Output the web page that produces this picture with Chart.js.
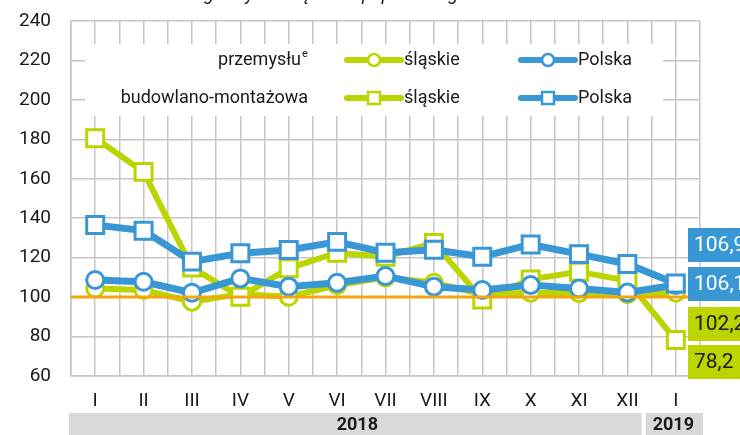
<!DOCTYPE html>
<html lang="pl">
<head>
<meta charset="utf-8">
<script src="https://cdn.jsdelivr.net/npm/chart.js@4"></script>
<style>
html, body { margin: 0; padding: 0; background: #fff; }
</style>
</head>
<body>
<canvas id="wykres" width="740" height="435"></canvas>
<script>
// miesiace i lata
const miesiace = ['I', 'II', 'III', 'IV', 'V', 'VI', 'VII', 'VIII', 'IX', 'X', 'XI', 'XII', 'I'];
const lata = ['2018', '2019'];
const yTicks = [60, 80, 100, 120, 140, 160, 180, 200, 220, 240];

// produkcja sprzedana przemyslu
const slaskiePrzem = [104.4, 103.6, 97.7, 101.5, 100.2, 106.0, 110.0, 107.3, 101.5, 102.2, 102.0, 101.5, 102.2];
const polskaPrzem = [108.7, 107.8, 102.2, 109.5, 105.3, 107.3, 110.7, 105.3, 103.6, 106.1, 104.4, 102.3, 106.1];
// produkcja budowlano-montazowa
const slaskieBud = [180.6, 163.5, 115.0, 100.2, 114.6, 122.5, 120.5, 127.5, 98.8, 109.0, 112.9, 108.3, 78.2];
const polskaBud = [136.6, 133.7, 118.0, 122.2, 123.9, 128.0, 122.5, 124.0, 120.5, 126.7, 121.8, 116.8, 106.9];

const ZIELONY = '#bcd400';
const NIEBIESKI = '#3a97d6';
const TEKST = '#1a1a1a';
const SIATKA = '#c6c6c6';
const FONT = 'Roboto';

function punkty(arr) {
    return arr.map((v, i) => ({ x: i, y: v }));
}
function fmt(v) {
    return v.toFixed(1).replace('.', ',');
}

// tytul (ucięty u gory)
const tytul = {
    id: 'tytul',
    afterDraw(chart) {
        const ctx = chart.ctx;
        ctx.save();
        ctx.font = 'italic 18px ' + FONT;
        ctx.fillStyle = TEKST;
        ctx.textBaseline = 'alphabetic';
        const x0 = 204 - ctx.measureText('analo').width;
        ctx.fillText('analogiczny miesiąc roku poprzedniego = 100', x0, 0);
        ctx.restore();
    }
};

// legenda w bialym polu
const legenda = {
    id: 'legenda',
    beforeDatasetsDraw(chart) {
        const ctx = chart.ctx;
        ctx.save();
        ctx.fillStyle = '#fff';
        ctx.fillRect(85, 44, 578, 72);

        const wiersze = [
            { y: 60, nazwa: 'przemysłu', sup: 'e', styl: 'circle' },
            { y: 98, nazwa: 'budowlano-montażowa', sup: '', styl: 'rect' }
        ];
        wiersze.forEach(w => {
            ctx.font = '18px ' + FONT;
            ctx.fillStyle = TEKST;
            ctx.textBaseline = 'middle';
            ctx.textAlign = 'right';
            ctx.fillText(w.nazwa, w.sup ? 301 : 308, w.y);
            if (w.sup) {
                ctx.font = '11px ' + FONT;
                ctx.textAlign = 'left';
                ctx.fillText(w.sup, 302, w.y - 6);
            }
            [[ZIELONY, 347, 401, 374, 'śląskie', 404], [NIEBIESKI, 521, 575, 548, 'Polska', 578]].forEach(s => {
                ctx.strokeStyle = s[0];
                ctx.lineWidth = 6;
                ctx.lineCap = 'round';
                ctx.beginPath();
                ctx.moveTo(s[1], w.y);
                ctx.lineTo(s[2], w.y);
                ctx.stroke();
                ctx.fillStyle = '#fff';
                ctx.lineWidth = 2.5;
                ctx.beginPath();
                if (w.styl === 'circle') ctx.arc(s[3], w.y, 6, 0, Math.PI * 2);
                else ctx.rect(s[3] - 6, w.y - 6, 12, 12);
                ctx.fill();
                ctx.stroke();
                ctx.font = '18px ' + FONT;
                ctx.fillStyle = TEKST;
                ctx.textAlign = 'left';
                ctx.fillText(s[4], s[5], w.y);
            });
        });
        ctx.restore();
    }
};

// linia 100
const linia100 = {
    id: 'linia100',
    afterDatasetsDraw(chart) {
        const ctx = chart.ctx;
        const a = chart.chartArea;
        const y = chart.scales.y.getPixelForValue(100);
        ctx.save();
        ctx.strokeStyle = '#f2a50c';
        ctx.lineWidth = 3;
        ctx.beginPath();
        ctx.moveTo(a.left, y);
        ctx.lineTo(a.right - 10, y);
        ctx.stroke();
        ctx.restore();
    }
};

// pasek lat i etykiety wartosci
const dodatki = {
    id: 'dodatki',
    afterDraw(chart) {
        const ctx = chart.ctx;
        const a = chart.chartArea;
        const sx = chart.scales.x;
        const sep = sx.getPixelForValue(11.5) - 8;
        ctx.save();
        ctx.fillStyle = '#d9d9d9';
        ctx.fillRect(a.left - 2, 413, sep - 2 - (a.left - 2), 22);
        ctx.fillRect(sep + 2, 413, a.right + 3 - (sep + 2), 22);
        ctx.font = 'bold 18px ' + FONT;
        ctx.fillStyle = TEKST;
        ctx.textAlign = 'center';
        ctx.textBaseline = 'middle';
        ctx.fillText(lata[0], (a.left + sep) / 2, 425);
        ctx.fillText(lata[1], (sep + a.right + 3) / 2, 425);

        const n = miesiace.length - 1;
        const pola = [
            [polskaBud[n], NIEBIESKI, '#fff', 228],
            [polskaPrzem[n], NIEBIESKI, '#fff', 267],
            [slaskiePrzem[n], ZIELONY, TEKST, 307],
            [slaskieBud[n], ZIELONY, TEKST, 345]
        ];
        ctx.font = '21px ' + FONT;
        ctx.textAlign = 'left';
        pola.forEach(p => {
            ctx.fillStyle = p[1];
            ctx.fillRect(688, p[3], 60, 34);
            ctx.fillStyle = p[2];
            ctx.fillText(fmt(p[0]), 694, p[3] + 18);
        });
        ctx.restore();
    }
};

function seria(label, dane, kolor, styl, grub, kolejnosc) {
    return {
        label: label,
        data: punkty(dane),
        borderColor: kolor,
        backgroundColor: kolor,
        borderWidth: grub,
        pointStyle: styl,
        pointRadius: styl === 'rect' ? 12 : 8.5,
        pointBorderWidth: 3,
        pointBackgroundColor: '#fff',
        pointBorderColor: kolor,
        tension: 0,
        order: kolejnosc,
        clip: false
    };
}

const ctx = document.getElementById('wykres').getContext('2d');
const chart = new Chart(ctx, {
    type: 'line',
    data: {
        datasets: [
            seria('przemysłu śląskie', slaskiePrzem, ZIELONY, 'circle', 6, 3),
            seria('przemysłu Polska', polskaPrzem, NIEBIESKI, 'circle', 7, 1),
            seria('budowlano-montażowa śląskie', slaskieBud, ZIELONY, 'rect', 6, 2),
            seria('budowlano-montażowa Polska', polskaBud, NIEBIESKI, 'rect', 7, 0)
        ]
    },
    options: {
        responsive: false,
        animation: false,
        events: [],
        layout: { padding: { top: 21, right: 40, left: 0, bottom: 0 } },
        plugins: {
            legend: { display: false },
            tooltip: { enabled: false }
        },
        scales: {
            x: {
                type: 'linear',
                min: -0.5,
                max: miesiace.length - 0.5,
                afterFit: s => { s.height = 59; },
                border: { color: SIATKA, width: 1.5 },
                grid: { color: SIATKA, lineWidth: 1.5, drawTicks: false },
                ticks: {
                    stepSize: 0.5,
                    autoSkip: false,
                    maxRotation: 0,
                    padding: 14,
                    color: TEKST,
                    font: { family: FONT, size: 19 },
                    callback: v => Number.isInteger(v) ? miesiace[v] : ''
                }
            },
            y: {
                min: yTicks[0],
                max: yTicks[yTicks.length - 1],
                afterFit: s => { s.width = 71; },
                afterBuildTicks: s => { s.ticks = yTicks.map(v => ({ value: v })); },
                border: { color: SIATKA, width: 1.5 },
                grid: { color: SIATKA, lineWidth: 1.5, tickLength: 19, tickColor: 'rgba(0,0,0,0)' },
                ticks: {
                    padding: 1,
                    color: TEKST,
                    font: { family: FONT, size: 19 }
                }
            }
        }
    },
    plugins: [legenda, linia100, dodatki, tytul]
});
</script>
</body>
</html>
